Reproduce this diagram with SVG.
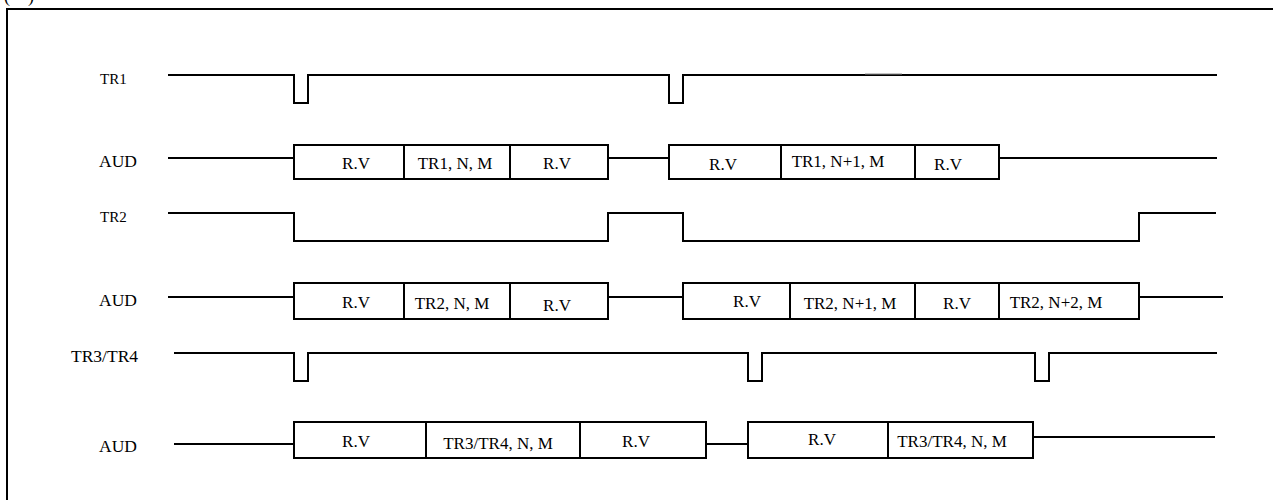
<svg xmlns="http://www.w3.org/2000/svg" width="1273" height="500" viewBox="0 0 1273 500">
<style>
.w{fill:none;stroke:#000;stroke-width:2;stroke-linejoin:miter}
.b{fill:#fff;stroke:#000;stroke-width:2}
.t{font-family:"Liberation Serif","Times New Roman",serif;font-size:17px;fill:#000;text-anchor:middle}
.l{font-family:"Liberation Serif","Times New Roman",serif;fill:#000}
</style>
<rect width="1273" height="500" fill="#fff"/>
<text class="l" x="4" y="2" font-size="18" style="white-space:pre">(    )</text>
<path class="w" d="M7,500 V9 H1273"/>

<g id="labels">
<text class="l" x="100" y="84" font-size="15">TR1</text>
<text class="l" x="99" y="167" font-size="17.5">AUD</text>
<text class="l" x="100" y="222" font-size="15">TR2</text>
<text class="l" x="99" y="306" font-size="17.5">AUD</text>
<text class="l" x="71" y="362" font-size="17.5">TR3/TR4</text>
<text class="l" x="99" y="452" font-size="17.5">AUD</text>
</g>

<g id="connectors">
<g id="tr1-wave"><path class="w" d="M168,75 H294 V103 H308 V75 H669 V103 H683 V75 H1217"/>
<line x1="865" y1="74" x2="902" y2="74" stroke="#888" stroke-width="1"/></g>
<g id="tr2-wave"><path class="w" d="M168,213 H294 V241 H608 V213 H683 V241 H1139 V213 H1216"/></g>
<g id="tr34-wave"><path class="w" d="M174,353 H294 V381 H308 V353 H748 V381 H762 V353 H1035 V381 H1049 V353 H1217"/></g>
<path class="w" d="M168,158 H294 M608,158 H669 M999,158 H1217"/>
<path class="w" d="M168,297 H294 M608,297 H683 M1139,297 H1223"/>
<path class="w" d="M174,444 H294 M706,444 H748 M1033,437 H1215"/>
</g>

<g id="aud1-a">
<rect class="b" x="294" y="145" width="314" height="34"/>
<line class="w" x1="404" y1="145" x2="404" y2="179"/><line class="w" x1="510" y1="145" x2="510" y2="179"/>
<text class="t" x="356" y="169">R.V</text><text class="t" x="455" y="169">TR1, N, M</text><text class="t" x="557" y="169">R.V</text>
</g>
<g id="aud1-b">
<rect class="b" x="669" y="145" width="330" height="34"/>
<line class="w" x1="781" y1="145" x2="781" y2="179"/><line class="w" x1="915" y1="145" x2="915" y2="179"/>
<text class="t" x="723" y="170">R.V</text><text class="t" x="838" y="167">TR1, N+1, M</text><text class="t" x="948" y="170">R.V</text>
</g>

<g id="aud2-a">
<rect class="b" x="294" y="283" width="314" height="36"/>
<line class="w" x1="404" y1="283" x2="404" y2="319"/><line class="w" x1="510" y1="283" x2="510" y2="319"/>
<text class="t" x="356" y="308">R.V</text><text class="t" x="452" y="309">TR2, N, M</text><text class="t" x="557" y="311">R.V</text>
</g>
<g id="aud2-b">
<rect class="b" x="683" y="283" width="456" height="36"/>
<line class="w" x1="790" y1="283" x2="790" y2="319"/><line class="w" x1="915" y1="283" x2="915" y2="319"/><line class="w" x1="999" y1="283" x2="999" y2="319"/>
<text class="t" x="747" y="307">R.V</text><text class="t" x="850" y="309">TR2, N+1, M</text><text class="t" x="957" y="309">R.V</text><text class="t" x="1056" y="308">TR2, N+2, M</text>
</g>

<g id="aud3-a">
<rect class="b" x="294" y="422" width="412" height="36"/>
<line class="w" x1="426" y1="422" x2="426" y2="458"/><line class="w" x1="580" y1="422" x2="580" y2="458"/>
<text class="t" x="356" y="447">R.V</text><text class="t" x="498" y="449">TR3/TR4, N, M</text><text class="t" x="636" y="447">R.V</text>
</g>
<g id="aud3-b">
<rect class="b" x="748" y="422" width="285" height="36"/>
<line class="w" x1="888" y1="422" x2="888" y2="458"/>
<text class="t" x="822" y="445">R.V</text><text class="t" x="952" y="447">TR3/TR4, N, M</text>
</g>
</svg>
